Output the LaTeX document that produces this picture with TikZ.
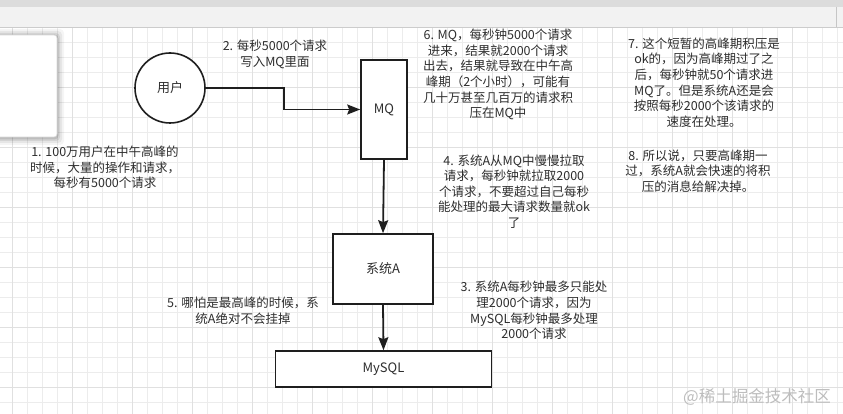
\documentclass[tikz,border=0pt]{standalone}
\usepackage{fontspec}
\setmainfont{Noto Sans CJK SC}
\usetikzlibrary{arrows.meta}
\definecolor{txt}{HTML}{2E2E2E}
\definecolor{ln}{HTML}{1E1E1E}
\definecolor{gridminor}{HTML}{ECECEC}
\definecolor{gridmajor}{HTML}{E0E0E0}
\definecolor{barA}{HTML}{DCDCDC}
\definecolor{barB}{HTML}{F2F2F2}
\definecolor{wm}{HTML}{BDBDBD}
\tikzset{
  note/.style={text=txt, align=center, inner sep=0pt, font=\fontsize{12.5pt}{15.6pt}\selectfont},
  boxnode/.style={draw=ln, line width=1.6pt, fill=white, text=txt, inner sep=0pt, font=\fontsize{13pt}{15pt}\selectfont},
  conn/.style={draw=ln, line width=1.8pt},
  arr/.style={conn, -{Stealth[length=13pt,width=10pt,inset=2pt]}},
}
\begin{document}
\begin{tikzpicture}[x=1pt,y=-1pt]
\useasboundingbox (0,0) rectangle (843,414);
% background
\fill[white] (0,0) rectangle (843,414);
% grid
\foreach \i in {0,...,55} {\draw[gridminor, line width=0.8pt] ({12+15*\i},27) -- ({12+15*\i},414);}
\foreach \j in {0,...,26} {\draw[gridminor, line width=0.8pt] (0,{27+15*\j}) -- (843,{27+15*\j});}
\foreach \i in {0,...,13} {\draw[gridmajor, line width=0.9pt] ({12+60*\i},27) -- ({12+60*\i},414);}
\foreach \j in {0,...,6} {\draw[gridmajor, line width=0.9pt] (0,{27+60*\j}) -- (843,{27+60*\j});}
% top bar
\fill[barB] (0,0) rectangle (843,27);
\fill[barA] (0,0) rectangle (843,7);
\draw[gray!40, line width=0.8pt] (0,27) -- (843,27);
\draw[gray!45, line width=0.8pt] (836,7) -- (836,27);
% popup with shadow
\foreach \s/\o in {7/0.04,5/0.06,3/0.08,1.5/0.10} {
  \fill[black, opacity=\o, rounded corners=4pt] (-10,{35-\s+1}) rectangle ({57+\s},{137+\s+1});
}
\fill[white, rounded corners=3pt] (-10,35) rectangle (57,137);
\draw[gray!30, line width=0.6pt, rounded corners=3pt] (-10,35) rectangle (57,137);
% nodes
\node[boxnode, circle, minimum size=70pt] (user) at (170,88) {用户};
\node[boxnode, minimum width=46pt, minimum height=99pt] (mq) at (384,109.5) {MQ};
\node[boxnode, minimum width=100pt, minimum height=70pt] (sysa) at (383,269) {系统A};
\node[boxnode, minimum width=216pt, minimum height=36pt] (mysql) at (383.5,369) {MySQL};
% connectors
\draw[arr] (user.east) -- ++(78,0) |- (mq.west);
\draw[arr] (mq.south) -- (sysa.north);
\draw[arr] (sysa.south) -- (mysql.north);
% notes
\node[note] (n2) at (275,54.5) {2. 每秒5000个请求\\写入MQ里面};
\node[note] (n1) at (105,167.5) {1. 100万用户在中午高峰的\\时候，大量的操作和请求，\\每秒有5000个请求};
\node[note] (n6) at (498,74.5) {6. MQ，每秒钟5000个请求\\进来，结果就2000个请求\\出去，结果就导致在中午高\\峰期（2个小时），可能有\\几十万甚至几百万的请求积\\压在MQ中};
\node[note] (n7) at (704,82.5) {7. 这个短暂的高峰期积压是\\ok的，因为高峰期过了之\\后，每秒钟就50个请求进\\MQ了。但是系统A还是会\\按照每秒2000个该请求的\\速度在处理。};
\node[note] (n8) at (698,171) {8. 所以说，只要高峰期一\\过，系统A就会快速的将积\\压的消息给解决掉。};
\node[note] (n4) at (514,191.5) {4. 系统A从MQ中慢慢拉取\\请求，每秒钟就拉取2000\\个请求，不要超过自己每秒\\能处理的最大请求数量就ok\\了};
\node[note] (n5) at (243,311) {5. 哪怕是最高峰的时候，系\\统A绝对不会挂掉};
\node[note] (n3) at (534,310.5) {3. 系统A每秒钟最多只能处\\理2000个请求，因为\\MySQL每秒钟最多处理\\2000个请求};
% watermark
\node[text=wm, inner sep=0pt, font=\fontsize{16.5pt}{18pt}\selectfont] (wmk) at (757,397) {@稀土掘金技术社区};
\end{tikzpicture}
\end{document}
